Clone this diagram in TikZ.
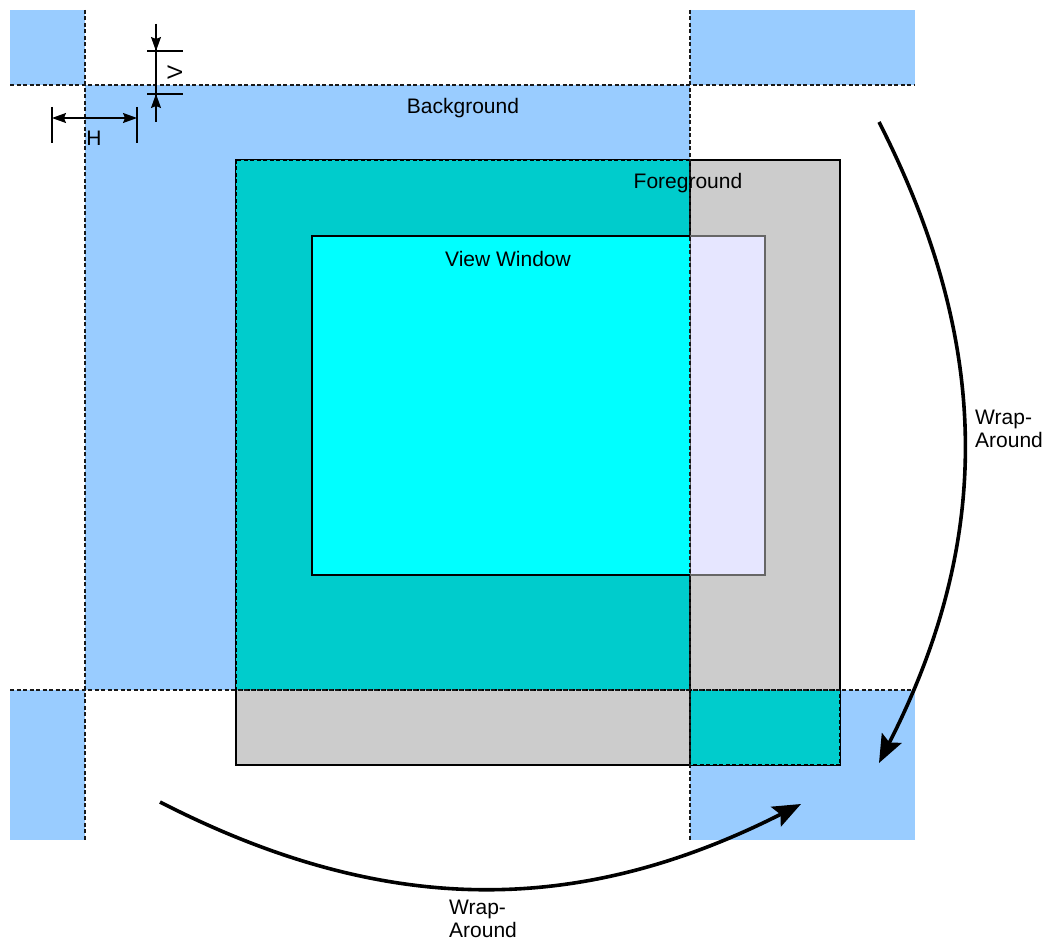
\documentclass[tikz,border=0pt]{standalone}
\usepackage{fontspec}
\setmainfont{Liberation Sans}
\usetikzlibrary{arrows.meta}
\definecolor{bgblue}{HTML}{99CCFF}
\definecolor{fgteal}{HTML}{00CCCC}
\definecolor{fggray}{HTML}{CCCCCC}
\definecolor{vwcyan}{HTML}{00FFFF}
\definecolor{vwlav}{HTML}{E6E6FF}
\tikzset{
  bgfill/.style={fill=bgblue,draw=none},
  guide/.style={draw=black!90,line width=1.3pt,dash pattern=on 4pt off 2.5pt},
  lbl/.style={font=\fontsize{21}{23}\selectfont,inner sep=0pt},
  wrap/.style={line width=3.6pt,-{Stealth[length=28pt,width=22pt,inset=5pt]}},
  dim/.style={line width=1.2pt,draw=black},
  dimtip/.style={dim,-{Stealth[length=14pt,width=10pt,inset=2pt]}},
}
\begin{document}
\begin{tikzpicture}[x=1pt,y=-1pt]
\useasboundingbox (0,0) rectangle (1043,941);
% background and its wrapped copies
\fill[bgblue] (85,85) rectangle (690,690);
\fill[bgblue] (10,10) rectangle (85,85);
\fill[bgblue] (690,10) rectangle (915,85);
\fill[bgblue] (10,690) rectangle (85,840);
\fill[bgblue] (690,690) rectangle (915,840);
% foreground
\draw[fill=fggray,line width=1.8pt] (236,160) rectangle (840,765);
\draw[fill=fgteal,line width=1.8pt,dash pattern=on 4pt off 2.5pt] (236,160) rectangle (690,690);
\draw[fill=fgteal,line width=1.8pt,dash pattern=on 4pt off 2.5pt] (690,690) rectangle (840,765);
% view window
\draw[fill=vwlav,draw=black!60,line width=1.2pt] (690,236) rectangle (765,575);
\draw[fill=vwcyan,line width=1.5pt] (690,236) -- (312,236) -- (312,575) -- (690,575);
\fill[vwcyan] (312.8,236.8) rectangle (690,574.2);
% guide lines
\draw[guide] (10,85) -- (915,85);
\draw[guide] (10,690) -- (915,690);
\draw[guide] (85,10) -- (85,840);
\draw[guide] (690,10) -- (690,840);
% labels
\node[lbl] (bg) at (463,108) {Background};
\node[lbl] (fg) at (688,183) {Foreground};
\node[lbl] (vw) at (508,259) {View Window};
% H dimension
\coordinate (h1) at (52,118);
\coordinate (h2) at (137,118);
\draw[dim] (52,107) -- (52,143);
\draw[dim] (137,107) -- (137,143);
\draw[dim,{Stealth[length=14pt,width=10pt,inset=2pt]}-{Stealth[length=14pt,width=10pt,inset=2pt]}] (h1) -- (h2);
\node[lbl] (hl) at (94,138) {H};
% V dimension
\coordinate (v0) at (156,24);
\coordinate (v1) at (156,51);
\coordinate (v2) at (156,94);
\coordinate (v3) at (156,122);
\draw[dim] (147,51) -- (183,51);
\draw[dim] (147,94) -- (183,94);
\draw[dim] (v0) -- (v3);
\draw[dimtip] (v0) -- (v1);
\draw[dimtip] (v3) -- (v2);
\node[lbl,rotate=90] (vl) at (175,72) {V};
% wrap-around arrows
\coordinate (ra) at (879,122);
\coordinate (rb) at (879,763);
\draw[wrap] (ra) to[bend left=27] (rb);
\coordinate (ba) at (160,802);
\coordinate (bb) at (801,804);
\draw[wrap] (ba) to[bend right=27] (bb);
\node[lbl,anchor=west,align=left] (wr) at (975,429) {Wrap-\\Around};
\node[lbl,anchor=west,align=left] (wb) at (449,919) {Wrap-\\Around};
\end{tikzpicture}
\end{document}
